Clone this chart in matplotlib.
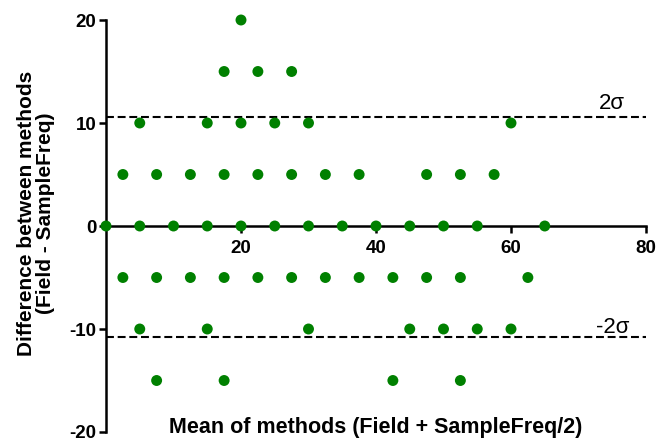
import matplotlib
matplotlib.use("Agg")
import matplotlib.pyplot as plt
import numpy as np

plt.rcParams['font.family'] = ['Liberation Sans', 'DejaVu Sans']
plt.rcParams['axes.unicode_minus'] = False

# Bland-Altman points, grouped by difference value
diff_levels = [20, 15, 10, 5, 0, -5, -10, -15]
mean_at_level = [
    [20],
    [17.5, 22.5, 27.5],
    [5, 15, 20, 25, 30, 60],
    [2.5, 7.5, 12.5, 17.5, 22.5, 27.5, 32.5, 37.5, 47.5, 52.5, 57.5],
    [0, 5, 10, 15, 20, 25, 30, 35, 40, 45, 50, 55, 65],
    [2.5, 7.5, 12.5, 17.5, 22.5, 27.5, 32.5, 37.5, 42.5, 47.5, 52.5, 62.5],
    [5, 15, 30, 45, 50, 55, 60],
    [7.5, 17.5, 42.5, 52.5],
]
upper_limit = 10.6
lower_limit = -10.8

x = []
y = []
for d, means in zip(diff_levels, mean_at_level):
    x += means
    y += [d] * len(means)

fig = plt.figure(figsize=(6.59, 4.38), dpi=100)
ax = fig.add_axes([106/659, 6/438, 540/659, 412/438])

ax.set_xlim(0, 80)
ax.set_ylim(-20, 20)

# limits of agreement
ax.plot([0, 80], [upper_limit, upper_limit], color='black', lw=1.5,
        linestyle=(0, (3.8, 1.8)), zorder=2)
ax.plot([0, 80], [lower_limit, lower_limit], color='black', lw=1.5,
        linestyle=(0, (3.8, 1.8)), zorder=2)

ax.scatter(x, y, s=62, color='#008000', edgecolors='none', zorder=4, clip_on=False)

ax.spines['top'].set_visible(False)
ax.spines['right'].set_visible(False)
ax.spines['bottom'].set_position(('data', 0))
ax.spines['left'].set_linewidth(1.8)
ax.spines['bottom'].set_linewidth(1.8)

ax.set_xticks([20, 40, 60, 80])
ax.set_yticks([-20, -10, 0, 10, 20])
ax.tick_params(axis='both', width=1.8, length=5, labelsize=13.5)
ax.tick_params(axis='x', pad=5)
ax.tick_params(axis='y', pad=2)
for lab in ax.get_xticklabels() + ax.get_yticklabels():
    lab.set_fontweight('bold')

fig.text(36/659, 225/438, "Difference between methods\n(Field - SampleFreq)",
         fontsize=15, fontweight='bold', rotation=90, ha='center', va='center',
         multialignment='center', linespacing=1.05)
ax.text(40, -20.05, "Mean of methods (Field + SampleFreq/2)",
        fontsize=15.5, fontweight='bold', ha='center', va='baseline')

ax.text(75, 11.9, "2σ", fontsize=16, ha='center', va='center')
ax.text(75, -9.9, "-2σ", fontsize=16, ha='center', va='center')

ax.patch.set_visible(False)
fig.savefig("out.png", dpi=100)
